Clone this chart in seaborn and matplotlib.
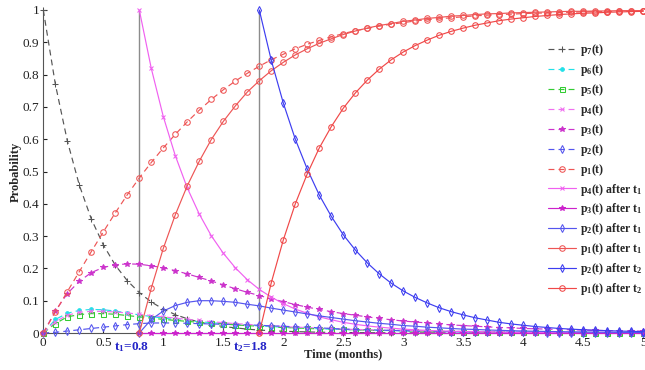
import numpy as np
import matplotlib
matplotlib.use("Agg")
import matplotlib.pyplot as plt
from matplotlib.font_manager import FontProperties
import seaborn as sns

# ---------------------------------------------------------------- data
t_full = np.round(np.arange(0, 5.0001, 0.1), 1)      # 0 .. 5 months
t_after1 = np.round(np.arange(0.8, 5.0001, 0.1), 1)  # from t1 = 0.8
t_after2 = np.round(np.arange(1.8, 5.0001, 0.1), 1)  # from t2 = 1.8

p7 = [1.000, 0.771, 0.595, 0.458, 0.353, 0.273, 0.210, 0.162, 0.125, 0.096,
      0.074, 0.057, 0.044, 0.034, 0.026, 0.020, 0.016, 0.012, 0.009, 0.007,
      0.0055, 0.0043, 0.0033, 0.0025, 0.0019, 0.0015, 0.0012, 0.0009, 0.0007, 0.0005,
      0.0004, 0.0003, 0.0002, 0.0002, 0.0001, 0.0001, 0.0001, 0, 0, 0,
      0, 0, 0, 0, 0, 0, 0, 0, 0, 0, 0]
p6 = [0, 0.042, 0.061, 0.070, 0.073, 0.072, 0.068, 0.062, 0.056, 0.051,
      0.046, 0.042, 0.038, 0.035, 0.032, 0.029, 0.026, 0.024, 0.022, 0.020,
      0.018, 0.016, 0.015, 0.013, 0.012, 0.011, 0.010, 0.009, 0.008, 0.0075,
      0.007, 0.006, 0.0055, 0.005, 0.0045, 0.004, 0.0037, 0.0033, 0.003, 0.0027,
      0.0025, 0.0022, 0.002, 0.0018, 0.0016, 0.0015, 0.0013, 0.0012, 0.0011, 0.001, 0.0009]
p5 = [0, 0.029, 0.050, 0.057, 0.060, 0.060, 0.058, 0.054, 0.050, 0.046,
      0.042, 0.039, 0.036, 0.033, 0.030, 0.028, 0.025, 0.023, 0.021, 0.019,
      0.017, 0.016, 0.014, 0.013, 0.012, 0.011, 0.010, 0.009, 0.008, 0.0075,
      0.007, 0.006, 0.0055, 0.005, 0.0045, 0.004, 0.0037, 0.0033, 0.003, 0.0027,
      0.0025, 0.0022, 0.002, 0.0018, 0.0016, 0.0015, 0.0013, 0.0012, 0.0011, 0.001, 0.0009]
p4 = [0, 0.035, 0.055, 0.064, 0.067, 0.067, 0.065, 0.062, 0.058, 0.054,
      0.050, 0.046, 0.042, 0.039, 0.035, 0.032, 0.029, 0.027, 0.024, 0.022,
      0.020, 0.018, 0.017, 0.015, 0.014, 0.012, 0.011, 0.010, 0.009, 0.0085,
      0.008, 0.007, 0.0065, 0.006, 0.0055, 0.005, 0.0045, 0.004, 0.0037, 0.0034,
      0.003, 0.0028, 0.0025, 0.0023, 0.0021, 0.0019, 0.0017, 0.0016, 0.0014, 0.0013, 0.0012]
p3 = [0, 0.068, 0.122, 0.160, 0.187, 0.203, 0.211, 0.214, 0.213, 0.208,
      0.202, 0.193, 0.183, 0.172, 0.161, 0.149, 0.137, 0.126, 0.116, 0.106,
      0.097, 0.088, 0.080, 0.073, 0.066, 0.060, 0.055, 0.050, 0.045, 0.041,
      0.037, 0.034, 0.031, 0.028, 0.025, 0.023, 0.021, 0.019, 0.017, 0.016,
      0.014, 0.013, 0.012, 0.011, 0.010, 0.009, 0.008, 0.0075, 0.0068, 0.0062, 0.0056]
p2 = [0, 0.002, 0.006, 0.010, 0.014, 0.018, 0.022, 0.026, 0.029, 0.031,
      0.031, 0.031, 0.030, 0.029, 0.028, 0.027, 0.026, 0.025, 0.024, 0.022,
      0.021, 0.019, 0.018, 0.016, 0.014, 0.012, 0.011, 0.010, 0.009, 0.008,
      0.007, 0.006, 0.005, 0.0045, 0.004, 0.0035, 0.003, 0.0027, 0.0024, 0.0021,
      0.0018, 0.0016, 0.0014, 0.0012, 0.0011, 0.001, 0.0009, 0.0008, 0.0007, 0.0006, 0.0005]
p1 = [0, 0.065, 0.128, 0.190, 0.252, 0.313, 0.372, 0.428, 0.480, 0.528,
      0.573, 0.615, 0.654, 0.690, 0.723, 0.753, 0.780, 0.804, 0.826, 0.846,
      0.863, 0.880, 0.894, 0.906, 0.917, 0.927, 0.936, 0.943, 0.950, 0.956,
      0.961, 0.966, 0.970, 0.973, 0.976, 0.979, 0.982, 0.984, 0.986, 0.987,
      0.989, 0.990, 0.991, 0.992, 0.993, 0.994, 0.995, 0.995, 0.996, 0.996, 0.997]

# after the first intervention (t1 = 0.8)
p4_t1 = [1.000, 0.819, 0.670, 0.549, 0.449, 0.368, 0.301, 0.247, 0.202, 0.165,
         0.135, 0.111, 0.091, 0.074, 0.061, 0.050, 0.041, 0.033, 0.027, 0.022,
         0.018, 0.015, 0.012, 0.010, 0.008, 0.0067, 0.0055, 0.0045, 0.0037, 0.003,
         0.0025, 0.002, 0.0017, 0.0014, 0.0011, 0.0009, 0.0007, 0.0006, 0.0005, 0.0004,
         0.0003, 0.0003, 0.0002]
p3_t1 = [0.0] * 43
p2_t1 = [0, 0.042, 0.068, 0.085, 0.095, 0.100, 0.100, 0.098, 0.095, 0.089,
         0.084, 0.077, 0.071, 0.065, 0.059, 0.053, 0.048, 0.043, 0.038, 0.034,
         0.030, 0.027, 0.023, 0.021, 0.018, 0.016, 0.014, 0.012, 0.011, 0.0094,
         0.0082, 0.0071, 0.0062, 0.0054, 0.0048, 0.0041, 0.0036, 0.0031, 0.0027, 0.0024,
         0.0021, 0.0017, 0.0015]
p1_t1 = [0, 0.139, 0.262, 0.366, 0.456, 0.532, 0.599, 0.655, 0.703, 0.746,
         0.781, 0.812, 0.838, 0.861, 0.880, 0.897, 0.911, 0.924, 0.935, 0.944,
         0.952, 0.958, 0.965, 0.969, 0.974, 0.977, 0.981, 0.983, 0.986, 0.988,
         0.989, 0.991, 0.992, 0.993, 0.994, 0.995, 0.996, 0.996, 0.997, 0.997,
         0.998, 0.998, 0.998]

# after the second intervention (t2 = 1.8)
p2_t2 = [1.000, 0.844, 0.712, 0.600, 0.507, 0.427, 0.361, 0.304, 0.257, 0.217,
         0.183, 0.154, 0.130, 0.110, 0.093, 0.078, 0.066, 0.056, 0.047, 0.040,
         0.033, 0.028, 0.024, 0.020, 0.017, 0.014, 0.012, 0.010, 0.0086, 0.0072,
         0.0061, 0.0051, 0.0043]
p1_t2 = [0, 0.156, 0.288, 0.400, 0.493, 0.573, 0.639, 0.696, 0.743, 0.783,
         0.817, 0.846, 0.870, 0.890, 0.907, 0.922, 0.934, 0.944, 0.953, 0.960,
         0.967, 0.972, 0.976, 0.980, 0.983, 0.986, 0.988, 0.990, 0.991, 0.993,
         0.994, 0.995, 0.996]

t1, t2 = 0.8, 1.8
x_ticks = [0, 0.5, 1, 1.5, 2, 2.5, 3, 3.5, 4, 4.5, 5]
x_tick_labels = ["0", "0.5", "1", "1.5", "2", "2.5", "3", "3.5", "4", "4.5", "5"]
y_ticks = [0, 0.1, 0.2, 0.3, 0.4, 0.5, 0.6, 0.7, 0.8, 0.9, 1]
y_tick_labels = ["0", "0.1", "0.2", "0.3", "0.4", "0.5", "0.6", "0.7", "0.8", "0.9", "1"]

# ---------------------------------------------------------------- style
sns.set_theme(style="ticks")
plt.rcParams["font.family"] = ["Liberation Serif", "DejaVu Serif"]
plt.rcParams["mathtext.fontset"] = "custom"
plt.rcParams["mathtext.rm"] = "Liberation Serif:bold"
plt.rcParams["mathtext.it"] = "Liberation Serif:bold"
plt.rcParams["mathtext.bf"] = "Liberation Serif:bold"
plt.rcParams["mathtext.default"] = "rm"

fig = plt.figure(figsize=(6.45, 3.70), dpi=100)
ax = fig.add_axes([43.3 / 645, 37 / 370, 600 / 645, 323 / 370])

DASH = (0, (5, 3.5))
series = [
    # (x, y, label, colour, marker, linestyle, size, face)
    (t_full, p7, r"p$_7$(t)", "#555555", "+", DASH, 5, None),
    (t_full, p6, r"p$_6$(t)", "#22e0e8", "o", DASH, 2.6, "fill"),
    (t_full, p5, r"p$_5$(t)", "#33cc33", "s", DASH, 3.6, "none"),
    (t_full, p4, r"p$_4$(t)", "#f070f0", "x", DASH, 3.4, None),
    (t_full, p3, r"p$_3$(t)", "#cc33cc", "*", DASH, 4, "fill"),
    (t_full, p2, r"p$_2$(t)", "#5555ee", "d", DASH, 3.8, "none"),
    (t_full, p1, r"p$_1$(t)", "#ee5555", "o", DASH, 4, "none"),
    (t_after1, p4_t1, r"p$_4$(t) after t$_1$", "#f060f0", "x", "-", 3.4, None),
    (t_after1, p3_t1, r"p$_3$(t) after t$_1$", "#cc22cc", "*", "-", 4, "fill"),
    (t_after1, p2_t1, r"p$_2$(t) after t$_1$", "#5555ee", "d", "-", 3.8, "none"),
    (t_after1, p1_t1, r"p$_1$(t) after t$_1$", "#ee5555", "o", "-", 4, "none"),
    (t_after2, p2_t2, r"p$_2$(t) after t$_2$", "#3d3df0", "d", "-", 3.8, "none"),
    (t_after2, p1_t2, r"p$_1$(t) after t$_2$", "#f04848", "o", "-", 4, "none"),
]

# intervention times
for tv in (t1, t2):
    ax.axvline(tv, color="#8c8c8c", lw=1.0, zorder=1)

handles = []
for x, y, label, col, mk, ls, ms, face in series:
    if len(x) != len(y):
        raise ValueError(f"{label}: {len(x)} times vs {len(y)} values")
    mfc = col if face == "fill" else ("none" if face == "none" else col)
    sns.lineplot(x=x, y=y, ax=ax, color=col, marker=mk, linestyle=ls, lw=0.85,
                 markersize=ms, markerfacecolor=mfc, markeredgecolor=col,
                 markeredgewidth=0.75, label=label, errorbar=None, clip_on=False,
                 zorder=3)
    handles.append(ax.lines[-1])

ax.set_xlim(0, 5)
ax.set_ylim(0, 1)
ax.set_xticks(x_ticks)
ax.set_xticklabels(x_tick_labels)
ax.set_yticks(y_ticks)
ax.set_yticklabels(y_tick_labels)
ax.tick_params(direction="in", length=3, width=0.8, labelsize=9.5, pad=3,
               colors="#222222")
for side in ("top", "right"):
    ax.spines[side].set_visible(False)
for side in ("left", "bottom"):
    ax.spines[side].set_color("#555555")
    ax.spines[side].set_linewidth(0.8)

ax.set_xlabel("Time (months)", fontsize=9, fontweight="bold")
ax.set_ylabel("Probability", fontsize=9, fontweight="bold")
ax.xaxis.set_label_coords(0.5, -0.048)
ax.yaxis.set_label_coords(-0.036, 0.5)

# interventions marked under the time axis
trans = ax.get_xaxis_transform()
ax.text(t1 - 0.06, -0.043, r"t$_1$=0.8", transform=trans, ha="center", va="center",
        color="#2525c8", fontsize=9.5, fontweight="bold")
ax.text(t2 - 0.07, -0.043, r"t$_2$=1.8", transform=trans, ha="center", va="center",
        color="#2525c8", fontsize=9.5, fontweight="bold")

legend_font = FontProperties(family="Liberation Serif", weight="bold", size=8.5)
ax.legend(handles=handles, labels=[s[2] for s in series], loc="upper left",
          bbox_to_anchor=(0.841, 0.9), frameon=False, prop=legend_font,
          handlelength=2.4, handletextpad=0.3, labelspacing=0.33,
          borderpad=0, borderaxespad=0)

fig.savefig("out.png", dpi=100)
